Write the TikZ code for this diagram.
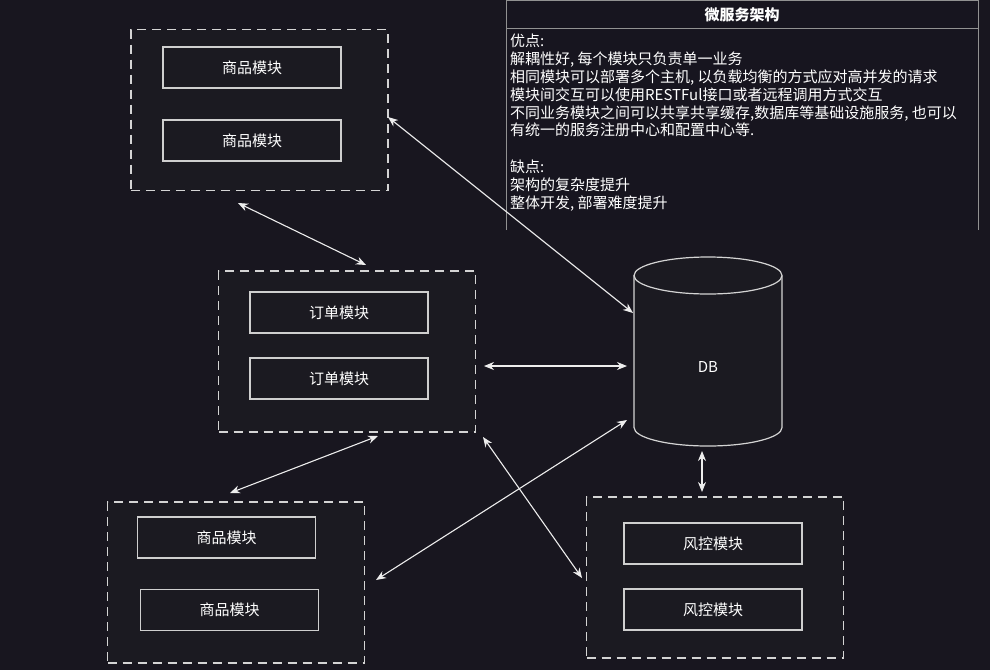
\documentclass[tikz,border=0pt]{standalone}
\usepackage{fontspec}
\setmainfont{Noto Sans CJK SC}
\usetikzlibrary{arrows.meta}
\definecolor{bgc}{HTML}{18161F}
\definecolor{grpfill}{HTML}{1B1A21}
\definecolor{boxline}{HTML}{CFCFCF}
\definecolor{dashline}{HTML}{D4D4D4}
\definecolor{arrowc}{HTML}{EDEDED}
\definecolor{infofill}{HTML}{17151F}
\tikzset{
  groupbox/.style={draw=dashline, fill=grpfill, line width=1.4pt, dash pattern=on 9pt off 6pt, minimum width=257pt, minimum height=161pt, inner sep=0pt},
  modbox/.style={draw=boxline, fill=grpfill, line width=1.2pt, minimum width=178pt, minimum height=41pt, inner sep=0pt, text=white, font=\fontsize{15}{17}\selectfont},
  link/.style={draw=arrowc, line width=1.1pt, {Stealth[length=10pt,width=8pt]}-{Stealth[length=10pt,width=8pt]}},
}
\begin{document}
\begin{tikzpicture}[x=1pt,y=-1pt]
\useasboundingbox (0,0) rectangle (990,670);
\fill[bgc] (0,0) rectangle (990,670);

% info panel
\fill[infofill] (506,0) rectangle (978,230);
\draw[draw=boxline!70!black, line width=0.9pt] (506,230) -- (506,0.5) -- (978,0.5) -- (978,230);
\draw[draw=boxline!70!black, line width=0.9pt] (506,28) -- (978,28);
\node[text=white, font=\fontsize{15}{17}\selectfont\bfseries] (title) at (742,15) {微服务架构};
\node[anchor=north west, align=left, text=white, inner sep=0pt, font=\fontsize{15}{17.8}\selectfont] (info) at (510,34) {优点:\\
解耦性好, 每个模块只负责单一业务\\
相同模块可以部署多个主机, 以负载均衡的方式应对高并发的请求\\
模块间交互可以使用RESTFul接口或者远程调用方式交互\\
不同业务模块之间可以共享共享缓存,数据库等基础设施服务, 也可以\\
有统一的服务注册中心和配置中心等.\\
\strut\\
缺点:\\
架构的复杂度提升\\
整体开发, 部署难度提升};

% groups
\node[groupbox] (g1) at (259.5,110) {};
\node[groupbox] (g2) at (347,351.5) {};
\node[groupbox] (g3) at (236,582.5) {};
\node[groupbox] (g4) at (715,577.5) {};

% modules
\node[modbox] (m1) at (252,67.5) {商品模块};
\node[modbox] (m2) at (252,140.5) {商品模块};
\node[modbox] (m3) at (339,312.5) {订单模块};
\node[modbox] (m4) at (339,378.5) {订单模块};
\node[modbox] (m5) at (226.5,537.5) {商品模块};
\node[modbox] (m6) at (229.5,610) {商品模块};
\node[modbox] (m7) at (713,543.5) {风控模块};
\node[modbox] (m8) at (713,609.5) {风控模块};

% DB cylinder
\fill[grpfill] (634,275.5) -- (634,427.5) arc[start angle=180, end angle=0, x radius=74, y radius=18.5] -- (782,275.5) -- cycle;
\fill[grpfill] (708,275.5) ellipse[x radius=74, y radius=18.5];
\draw[boxline!90!white, line width=1.2pt] (708,275.5) ellipse[x radius=74, y radius=18.5];
\draw[boxline!90!white, line width=1.2pt] (634,275.5) -- (634,427.5) arc[start angle=180, end angle=0, x radius=74, y radius=18.5] -- (782,275.5);
\node[text=white, font=\fontsize{15}{17}\selectfont] (db) at (708,367) {DB};

% connector end points
\coordinate (c1a) at (388,117); \coordinate (c1b) at (633,313);
\coordinate (c2a) at (238,203); \coordinate (c2b) at (366,265);
\coordinate (c3a) at (484,366); \coordinate (c3b) at (627,366);
\coordinate (c4a) at (230,493); \coordinate (c4b) at (378,436);
\coordinate (c5a) at (376,580); \coordinate (c5b) at (627,420);
\coordinate (c6a) at (483,437); \coordinate (c6b) at (582,578);
\coordinate (c7a) at (702,451); \coordinate (c7b) at (702,492);

\draw[link] (c1a) -- (c1b);
\draw[link] (c2a) -- (c2b);
\draw[link] (c3a) -- (c3b);
\draw[link] (c4a) -- (c4b);
\draw[link] (c5a) -- (c5b);
\draw[link] (c6a) -- (c6b);
\draw[link] (c7a) -- (c7b);
\end{tikzpicture}
\end{document}
